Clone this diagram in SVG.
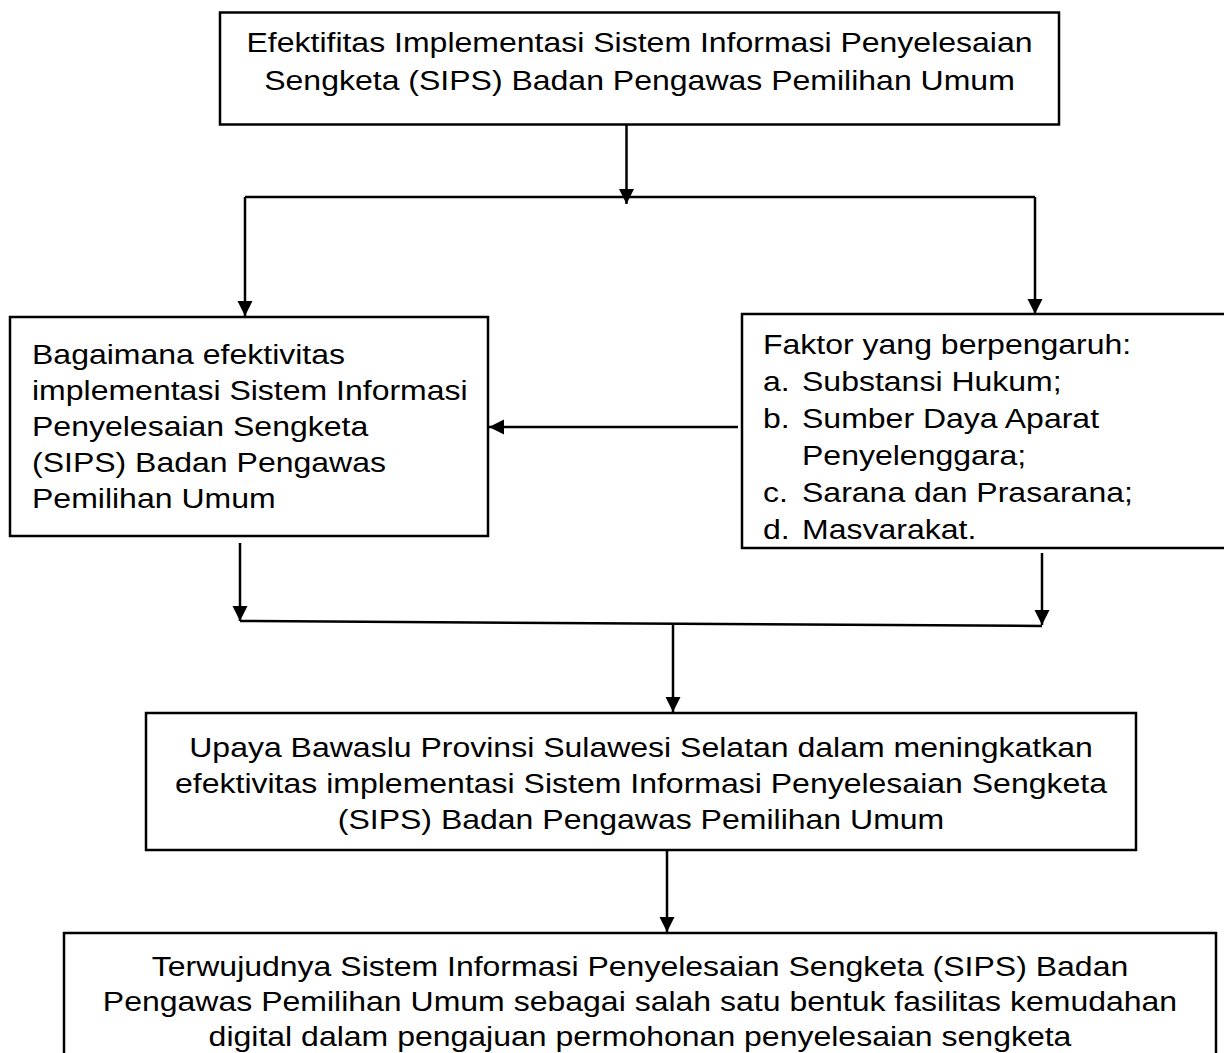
<svg xmlns="http://www.w3.org/2000/svg" width="1224" height="1053" viewBox="0 0 1224 1053">
  <style>
    .box { fill: #ffffff; stroke: #000000; stroke-width: 2.5; }
    .t { font-family: "Liberation Sans", Arial, sans-serif; font-size: 28.5px; fill: #000000; }
    .c { text-anchor: middle; }
    .con { fill: none; stroke: #000000; stroke-width: 2.5; }
  </style>
  <defs>
    <marker id="arr" markerUnits="userSpaceOnUse" markerWidth="16" markerHeight="16" viewBox="0 0 16 16" refX="15" refY="8" orient="auto">
      <path d="M0,0.5 L15,8 L0,15.5 Z" fill="#000000"/>
    </marker>
    <clipPath id="clipR">
      <rect x="742" y="314" width="482" height="225"/>
    </clipPath>
  </defs>
  <rect x="0" y="0" width="1224" height="1053" fill="#ffffff"/>

  <g id="n-top">
    <rect class="box" x="220" y="12.5" width="839" height="112"/>
    <text class="t c" transform="translate(639.5,52) scale(1.123,1)">Efektifitas Implementasi Sistem Informasi Penyelesaian</text>
    <text class="t c" transform="translate(639.5,90) scale(1.123,1)">Sengketa (SIPS) Badan Pengawas Pemilihan Umum</text>
  </g>

  <g id="n-left">
    <rect class="box" x="10" y="317" width="478" height="219"/>
    <text class="t" transform="translate(32,364) scale(1.123,1)">Bagaimana efektivitas</text>
    <text class="t" transform="translate(32,400) scale(1.123,1)">implementasi Sistem Informasi</text>
    <text class="t" transform="translate(32,436) scale(1.123,1)">Penyelesaian Sengketa</text>
    <text class="t" transform="translate(32,472) scale(1.123,1)">(SIPS) Badan Pengawas</text>
    <text class="t" transform="translate(32,508) scale(1.123,1)">Pemilihan Umum</text>
  </g>

  <g id="n-right">
    <rect class="box" x="742" y="314" width="490" height="234"/>
    <g clip-path="url(#clipR)">
      <text class="t" transform="translate(763,354) scale(1.123,1)">Faktor yang berpengaruh:</text>
      <text class="t" transform="translate(763,391) scale(1.123,1)">a.</text>
      <text class="t" transform="translate(802,391) scale(1.123,1)">Substansi Hukum;</text>
      <text class="t" transform="translate(763,428) scale(1.123,1)">b.</text>
      <text class="t" transform="translate(802,428) scale(1.123,1)">Sumber Daya Aparat</text>
      <text class="t" transform="translate(802,465) scale(1.123,1)">Penyelenggara;</text>
      <text class="t" transform="translate(763,502) scale(1.123,1)">c.</text>
      <text class="t" transform="translate(802,502) scale(1.123,1)">Sarana dan Prasarana;</text>
      <text class="t" transform="translate(763,539) scale(1.123,1)">d.</text>
      <text class="t" transform="translate(802,539) scale(1.123,1)">Masyarakat.</text>
    </g>
  </g>

  <g id="n-mid">
    <rect class="box" x="146" y="713" width="990" height="137"/>
    <text class="t c" transform="translate(641,757) scale(1.123,1)">Upaya Bawaslu Provinsi Sulawesi Selatan dalam meningkatkan</text>
    <text class="t c" transform="translate(641,793) scale(1.123,1)">efektivitas implementasi Sistem Informasi Penyelesaian Sengketa</text>
    <text class="t c" transform="translate(641,829) scale(1.123,1)">(SIPS) Badan Pengawas Pemilihan Umum</text>
  </g>

  <g id="n-bottom">
    <rect class="box" x="64" y="933" width="1152" height="140"/>
    <text class="t c" transform="translate(640,976) scale(1.123,1)">Terwujudnya Sistem Informasi Penyelesaian Sengketa (SIPS) Badan</text>
    <text class="t c" transform="translate(640,1011) scale(1.123,1)">Pengawas Pemilihan Umum sebagai salah satu bentuk fasilitas kemudahan</text>
    <text class="t c" transform="translate(640,1046) scale(1.123,1)">digital dalam pengajuan permohonan penyelesaian sengketa</text>
  </g>

  <g id="connectors">
    <line class="con" x1="626.5" y1="124.5" x2="626.5" y2="204" marker-end="url(#arr)"/>
    <line class="con" x1="245" y1="197" x2="1035" y2="197"/>
    <line class="con" x1="245" y1="197" x2="245" y2="316" marker-end="url(#arr)"/>
    <line class="con" x1="1035" y1="197" x2="1035" y2="314" marker-end="url(#arr)"/>
    <line class="con" x1="738" y1="427" x2="489" y2="427" marker-end="url(#arr)"/>
    <line class="con" x1="240" y1="543" x2="240" y2="621" marker-end="url(#arr)"/>
    <line class="con" x1="1042" y1="553" x2="1042" y2="625" marker-end="url(#arr)"/>
    <line class="con" x1="240" y1="621" x2="1042" y2="626"/>
    <line class="con" x1="673" y1="624" x2="673" y2="712" marker-end="url(#arr)"/>
    <line class="con" x1="667" y1="850" x2="667" y2="932" marker-end="url(#arr)"/>
  </g>
</svg>
